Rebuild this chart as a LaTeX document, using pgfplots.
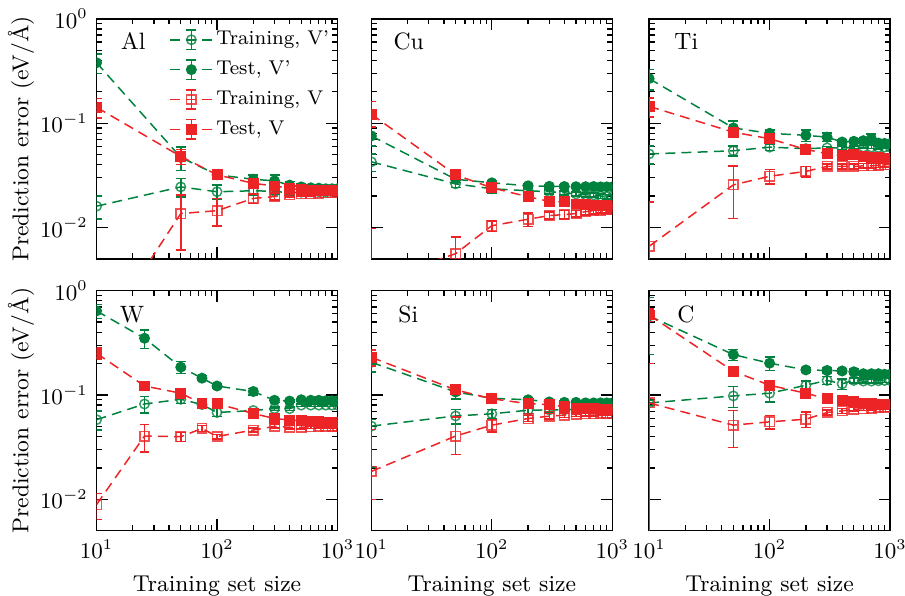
\documentclass[border=0pt]{standalone}
\usepackage{pgfplots}
\pgfplotsset{compat=1.18}
\definecolor{gG}{RGB}{0,130,62}
\definecolor{rR}{RGB}{237,36,38}
\newcommand{\bigf}{\fontsize{9.2}{11}\selectfont}
\newcommand{\smf}{\fontsize{8}{9.6}\selectfont}
\newcommand{\pnf}{\fontsize{9.5}{11}\selectfont}
\pgfplotsset{
  every axis/.append style={xmode=log, ymode=log, xmin=10, xmax=1000, ymin=0.005, ymax=1,
    scale only axis, width=96.8pt, height=96.4pt, anchor=south west,
    tick align=inside, major tick length=4.6pt, minor tick length=2.2pt,
    xtick={10,100,1000}, ytick={0.01,0.1,1},
    xticklabels={$10^{1}$,$10^{2}$,$10^{3}$},
    yticklabels={$10^{-2}$,$10^{-1}$,$10^{0}$},
    ylabel shift=-4.5pt,
    clip marker paths=true, font=\bigf, axis line style={line width=0.6pt}},
  every tick/.append style={black, line width=0.5pt},
  mySer/.style={line width=0.6pt, dash pattern=on 4pt off 2.5pt, mark size=1.9pt,
    error bars/y dir=both, error bars/y explicit,
    error bars/error bar style={solid, line width=0.6pt},
    error bars/error mark options={rotate=90, mark size=2pt, solid, line width=0.6pt}},
  trVp/.style={mySer, color=gG, mark=o, mark options={solid, fill=none, draw opacity=0.8}},
  teVp/.style={mySer, color=gG, mark=*, mark options={solid, fill=gG}},
  trV/.style={mySer, color=rR, mark=square, mark options={solid, fill=none, draw opacity=0.8}},
  teV/.style={mySer, color=rR, mark=square*, mark options={solid, fill=rR}},
  errleg/.style={legend image code/.code={
    \draw[solid, line width=0.6pt] (0.3cm,-3.9pt) -- (0.3cm,3.9pt)
      (0.3cm-2pt,3.9pt) -- (0.3cm+2pt,3.9pt) (0.3cm-2pt,-3.9pt) -- (0.3cm+2pt,-3.9pt);
    \draw[mark repeat=2,mark phase=2] plot coordinates {(0cm,0cm) (0.3cm,0cm) (0.6cm,0cm)};}},
}
\begin{document}
\begin{tikzpicture}
\useasboundingbox (0,0) rectangle (363.6pt,239.2pt);
% ---------------- Al
\begin{axis}[at={(38.8pt,135.2pt)}, xticklabels={},
  ylabel={Prediction error (eV/\AA)},
  legend cell align=left,
  legend style={draw=none, fill=none, at={(0.30,0.965)}, anchor=north west, font=\smf,
    row sep=2.4pt, inner sep=0pt, nodes={inner sep=1.2pt, text height=5.6pt, text depth=1.6pt}}]
\addplot[trVp, errleg] table[x=x, y=y, y error plus=ep, y error minus=em] {
x y ep em
10 0.016 0.004 0.004
50 0.0245 0.005 0.005
100 0.022 0.0035 0.0035
200 0.0225 0.002 0.002
300 0.0222 0.0015 0.0015
400 0.0215 0.001 0.001
500 0.0218 0.001 0.001
600 0.022 0.001 0.001
700 0.022 0.001 0.001
800 0.0218 0.001 0.001
900 0.022 0.001 0.001
1000 0.022 0.001 0.001
};
\addlegendentry{Training, V'}
\addplot[teVp, errleg] table[x=x, y=y, y error plus=ep, y error minus=em] {
x y ep em
10 0.38 0.08 0.08
50 0.047 0.012 0.012
100 0.032 0.003 0.003
200 0.029 0.003 0.003
300 0.028 0.004 0.004
400 0.0255 0.002 0.002
500 0.0245 0.0015 0.0015
600 0.024 0.001 0.001
700 0.0238 0.001 0.001
800 0.0235 0.001 0.001
900 0.0235 0.001 0.001
1000 0.0235 0.001 0.001
};
\addlegendentry{Test, V'}
\addplot[trV, errleg] table[x=x, y=y, y error plus=ep, y error minus=em] {
x y ep em
10 0.0008 0.0003 0.0003
50 0.0136 0.0068 0.0075
100 0.0145 0.0045 0.0042
200 0.019 0.002 0.002
300 0.0198 0.0015 0.0015
400 0.0205 0.001 0.001
500 0.021 0.001 0.001
600 0.021 0.001 0.001
700 0.0212 0.001 0.001
800 0.0215 0.001 0.001
900 0.0215 0.001 0.001
1000 0.0218 0.001 0.001
};
\addlegendentry{Training, V}
\addplot[teV, errleg] table[x=x, y=y, y error plus=ep, y error minus=em] {
x y ep em
10 0.142 0.03 0.03
50 0.048 0.008 0.008
100 0.032 0.003 0.003
200 0.0265 0.002 0.002
300 0.025 0.002 0.002
400 0.0237 0.0015 0.0015
500 0.023 0.001 0.001
600 0.0228 0.001 0.001
700 0.0226 0.001 0.001
800 0.0225 0.001 0.001
900 0.0225 0.001 0.001
1000 0.0225 0.001 0.001
};
\addlegendentry{Test, V}
\node[anchor=west, inner sep=0pt, font=\pnf] at (rel axis cs:0.1,0.907) {Al};
\end{axis}
% ---------------- Cu
\begin{axis}[at={(149.2pt,135.2pt)}, xticklabels={}, yticklabels={}]
\addplot[trVp] table[x=x, y=y, y error plus=ep, y error minus=em] {
x y ep em
10 0.0426 0.008 0.008
50 0.0262 0.002 0.002
100 0.0235 0.002 0.002
200 0.0225 0.0015 0.0015
300 0.022 0.001 0.001
400 0.0215 0.001 0.001
500 0.021 0.001 0.001
600 0.0205 0.001 0.001
700 0.0205 0.001 0.001
800 0.02 0.001 0.001
900 0.0198 0.001 0.001
1000 0.0195 0.001 0.001
};
\addplot[teVp] table[x=x, y=y, y error plus=ep, y error minus=em] {
x y ep em
10 0.0755 0.015 0.015
50 0.029 0.002 0.002
100 0.0268 0.0015 0.0015
200 0.0251 0.001 0.001
300 0.0248 0.001 0.001
400 0.0247 0.001 0.001
500 0.0246 0.001 0.001
600 0.0246 0.001 0.001
700 0.0247 0.001 0.001
800 0.0245 0.001 0.001
900 0.0245 0.001 0.001
1000 0.0245 0.001 0.001
};
\addplot[trV] table[x=x, y=y, y error plus=ep, y error minus=em] {
x y ep em
10 0.003 0.0068 0.002
50 0.0056 0.0025 0.0025
100 0.0104 0.0012 0.0012
200 0.012 0.0018 0.0018
300 0.013 0.001 0.001
400 0.0133 0.0012 0.0012
500 0.0136 0.001 0.001
600 0.0142 0.001 0.001
700 0.0145 0.001 0.001
800 0.0147 0.001 0.001
900 0.0148 0.001 0.001
1000 0.015 0.001 0.001
};
\addplot[teV] table[x=x, y=y, y error plus=ep, y error minus=em] {
x y ep em
10 0.122 0.04 0.03
50 0.032 0.003 0.003
100 0.024 0.002 0.002
200 0.0197 0.001 0.001
300 0.0178 0.001 0.001
400 0.0176 0.001 0.001
500 0.0168 0.001 0.001
600 0.0165 0.001 0.001
700 0.0164 0.001 0.001
800 0.0163 0.001 0.001
900 0.0162 0.001 0.001
1000 0.0162 0.001 0.001
};
\node[anchor=west, inner sep=0pt, font=\pnf] at (rel axis cs:0.09,0.907) {Cu};
\end{axis}
% ---------------- Ti
\begin{axis}[at={(260.8pt,135.2pt)}, xticklabels={}, yticklabels={}]
\addplot[trVp] table[x=x, y=y, y error plus=ep, y error minus=em] {
x y ep em
10 0.0507 0.01 0.01
50 0.0544 0.006 0.006
100 0.0589 0.004 0.004
200 0.057 0.003 0.003
300 0.058 0.002 0.002
400 0.058 0.002 0.002
500 0.0585 0.002 0.002
600 0.059 0.002 0.002
700 0.059 0.002 0.002
800 0.0585 0.002 0.002
900 0.059 0.002 0.002
1000 0.059 0.002 0.002
};
\addplot[teVp] table[x=x, y=y, y error plus=ep, y error minus=em] {
x y ep em
10 0.268 0.06 0.06
50 0.09 0.015 0.015
100 0.08 0.006 0.006
200 0.0765 0.01 0.01
300 0.0735 0.007 0.007
400 0.066 0.004 0.004
500 0.067 0.003 0.003
600 0.068 0.003 0.003
700 0.071 0.008 0.008
800 0.0645 0.003 0.003
900 0.064 0.003 0.003
1000 0.0635 0.003 0.003
};
\addplot[trV] table[x=x, y=y, y error plus=ep, y error minus=em] {
x y ep em
10 0.0066 0.011 0.006
50 0.0256 0.0134 0.0134
100 0.031 0.005 0.005
200 0.0345 0.004 0.004
300 0.0385 0.002 0.002
400 0.0385 0.002 0.002
500 0.0385 0.002 0.002
600 0.039 0.002 0.002
700 0.039 0.002 0.002
800 0.0395 0.002 0.002
900 0.04 0.002 0.002
1000 0.04 0.002 0.002
};
\addplot[teV] table[x=x, y=y, y error plus=ep, y error minus=em] {
x y ep em
10 0.145 0.03 0.03
50 0.082 0.008 0.008
100 0.071 0.005 0.005
200 0.0560 0.004 0.004
300 0.051 0.004 0.004
400 0.049 0.003 0.003
500 0.050 0.003 0.003
600 0.048 0.002 0.002
700 0.047 0.002 0.002
800 0.0465 0.002 0.002
900 0.0455 0.002 0.002
1000 0.0455 0.002 0.002
};
\node[anchor=west, inner sep=0pt, font=\pnf] at (rel axis cs:0.103,0.907) {Ti};
\end{axis}
% ---------------- W
\begin{axis}[at={(38.8pt,26pt)}, xlabel={Training set size},
  ylabel={Prediction error (eV/\AA)}]
\addplot[trVp] table[x=x, y=y, y error plus=ep, y error minus=em] {
x y ep em
10 0.058 0.012 0.012
25 0.082 0.015 0.015
50 0.091 0.008 0.008
75 0.081 0.004 0.004
100 0.068 0.006 0.006
200 0.071 0.003 0.003
300 0.074 0.003 0.003
400 0.074 0.003 0.003
500 0.08 0.002 0.002
600 0.08 0.002 0.002
700 0.08 0.002 0.002
800 0.08 0.002 0.002
900 0.08 0.002 0.002
1000 0.08 0.002 0.002
};
\addplot[teVp] table[x=x, y=y, y error plus=ep, y error minus=em] {
x y ep em
10 0.64 0.1 0.1
25 0.35 0.07 0.07
50 0.185 0.025 0.025
75 0.145 0.008 0.008
100 0.122 0.005 0.005
200 0.108 0.008 0.008
300 0.089 0.004 0.004
400 0.0875 0.003 0.003
500 0.09 0.003 0.003
600 0.089 0.003 0.003
700 0.089 0.003 0.003
800 0.088 0.003 0.003
900 0.088 0.003 0.003
1000 0.088 0.003 0.003
};
\addplot[trV] table[x=x, y=y, y error plus=ep, y error minus=em] {
x y ep em
10 0.0089 0.0025 0.0025
25 0.0404 0.012 0.012
50 0.0398 0.004 0.004
75 0.0478 0.003 0.003
100 0.040 0.002 0.002
200 0.0461 0.002 0.002
300 0.050 0.002 0.002
400 0.049 0.002 0.002
500 0.049 0.002 0.002
600 0.0495 0.002 0.002
700 0.05 0.002 0.002
800 0.05 0.002 0.002
900 0.05 0.002 0.002
1000 0.05 0.002 0.002
};
\addplot[teV] table[x=x, y=y, y error plus=ep, y error minus=em] {
x y ep em
10 0.251 0.03 0.03
25 0.122 0.005 0.005
50 0.104 0.006 0.006
75 0.0826 0.004 0.004
100 0.0826 0.006 0.006
200 0.0664 0.003 0.003
300 0.0595 0.003 0.003
400 0.0574 0.002 0.002
500 0.057 0.002 0.002
600 0.0555 0.002 0.002
700 0.0553 0.002 0.002
800 0.055 0.002 0.002
900 0.055 0.002 0.002
1000 0.055 0.002 0.002
};
\node[anchor=west, inner sep=0pt, font=\pnf] at (rel axis cs:0.095,0.9) {W};
\end{axis}
% ---------------- Si
\begin{axis}[at={(149.2pt,26pt)}, xlabel={Training set size}, yticklabels={}]
\addplot[trVp] table[x=x, y=y, y error plus=ep, y error minus=em] {
x y ep em
10 0.0503 0.008 0.03
50 0.063 0.01 0.01
100 0.066 0.007 0.007
200 0.0715 0.005 0.005
300 0.072 0.003 0.003
400 0.072 0.003 0.003
500 0.073 0.003 0.003
600 0.074 0.003 0.003
700 0.075 0.003 0.003
800 0.075 0.003 0.003
900 0.076 0.003 0.003
1000 0.076 0.003 0.003
};
\addplot[teVp] table[x=x, y=y, y error plus=ep, y error minus=em] {
x y ep em
10 0.206 0.04 0.04
50 0.107 0.015 0.015
100 0.093 0.006 0.006
200 0.09 0.005 0.005
300 0.0858 0.004 0.004
400 0.085 0.003 0.003
500 0.085 0.003 0.003
600 0.084 0.003 0.003
700 0.084 0.003 0.003
800 0.084 0.003 0.003
900 0.084 0.003 0.003
1000 0.084 0.003 0.003
};
\addplot[trV] table[x=x, y=y, y error plus=ep, y error minus=em] {
x y ep em
10 0.0185 0.028 0.0085
50 0.0404 0.021 0.0136
100 0.0514 0.007 0.007
200 0.0595 0.004 0.004
300 0.0627 0.004 0.004
400 0.064 0.003 0.003
500 0.0655 0.003 0.003
600 0.066 0.003 0.003
700 0.066 0.003 0.003
800 0.067 0.003 0.003
900 0.067 0.003 0.003
1000 0.067 0.003 0.003
};
\addplot[teV] table[x=x, y=y, y error plus=ep, y error minus=em] {
x y ep em
10 0.23 0.04 0.04
50 0.112 0.01 0.01
100 0.092 0.005 0.005
200 0.0826 0.004 0.004
300 0.081 0.003 0.003
400 0.077 0.003 0.003
500 0.075 0.003 0.003
600 0.074 0.003 0.003
700 0.074 0.003 0.003
800 0.073 0.003 0.003
900 0.073 0.003 0.003
1000 0.073 0.003 0.003
};
\node[anchor=west, inner sep=0pt, font=\pnf] at (rel axis cs:0.11,0.9) {Si};
\end{axis}
% ---------------- C
\begin{axis}[at={(260.8pt,26pt)}, xlabel={Training set size}, yticklabels={}]
\addplot[trVp] table[x=x, y=y, y error plus=ep, y error minus=em] {
x y ep em
10 0.0839 0.005 0.005
50 0.098 0.022 0.022
100 0.104 0.018 0.018
200 0.124 0.012 0.012
300 0.138 0.012 0.012
400 0.128 0.015 0.015
500 0.138 0.008 0.008
600 0.136 0.006 0.006
700 0.136 0.006 0.006
800 0.137 0.006 0.006
900 0.138 0.006 0.006
1000 0.138 0.006 0.006
};
\addplot[teVp] table[x=x, y=y, y error plus=ep, y error minus=em] {
x y ep em
10 0.574 0.29 0.33
50 0.244 0.03 0.03
100 0.202 0.03 0.03
200 0.174 0.01 0.01
300 0.172 0.01 0.01
400 0.17 0.008 0.008
500 0.167 0.01 0.01
600 0.16 0.006 0.006
700 0.16 0.006 0.006
800 0.16 0.006 0.006
900 0.158 0.006 0.006
1000 0.158 0.006 0.006
};
\addplot[trV] table[x=x, y=y, y error plus=ep, y error minus=em] {
x y ep em
10 0.0839 0.116 0.083
50 0.0514 0.02 0.02
100 0.0553 0.008 0.008
200 0.0586 0.01 0.01
300 0.068 0.004 0.004
400 0.0705 0.004 0.004
500 0.073 0.003 0.003
600 0.074 0.003 0.003
700 0.075 0.003 0.003
800 0.076 0.003 0.003
900 0.076 0.003 0.003
1000 0.077 0.003 0.003
};
\addplot[teV] table[x=x, y=y, y error plus=ep, y error minus=em] {
x y ep em
10 0.585 0.08 0.08
50 0.169 0.01 0.01
100 0.124 0.01 0.01
200 0.104 0.01 0.01
300 0.092 0.005 0.005
400 0.088 0.004 0.004
500 0.0858 0.004 0.004
600 0.0835 0.003 0.003
700 0.0826 0.003 0.003
800 0.082 0.003 0.003
900 0.082 0.003 0.003
1000 0.082 0.003 0.003
};
\node[anchor=west, inner sep=0pt, font=\pnf] at (rel axis cs:0.115,0.9) {C};
\end{axis}
\end{tikzpicture}
\end{document}
